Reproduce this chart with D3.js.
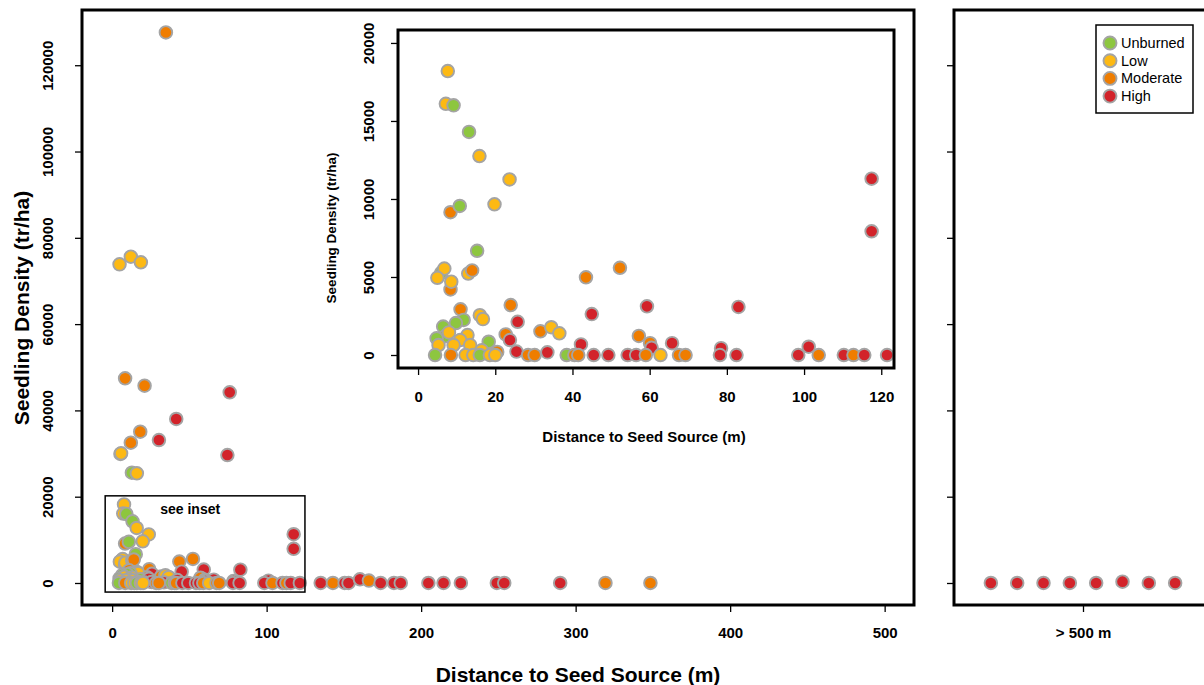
<!DOCTYPE html>
<html>
<head>
<meta charset="utf-8">
<script src="https://cdn.jsdelivr.net/npm/d3@7"></script>
<style>
  body { margin: 0; background: #fff; }
  svg { font-family: "Liberation Sans", Arial, Helvetica, sans-serif; }
  .tick text { font-weight: bold; font-size: 15px; fill: #000; }
  .tick line { stroke: #000; stroke-width: 1.3; }
</style>
</head>
<body>
<div id="chart"></div>
<script>
// burn severity classes and colours
const severities = ["Unburned", "Low", "Moderate", "High"];
const severityColors = ["#8dc63f", "#fdb913", "#ef7d00", "#d2232a"];

// plots within 500 m of a seed source
const distance = [
  34.8, 4.8, 12.1, 18.6, 8.4, 21.0, 76.1, 41.5, 18.2, 12.1, 30.3, 5.4, 5.8, 74.6, 12.8, 16.0,
  7.7, 7.2, 9.2, 13.2, 15.9, 23.7, 8.4, 10.8, 19.8, 15.3, 6.0, 6.8, 5.0, 8.4, 8.6, 13.0, 14.0,
  43.5, 52.3, 117.5, 117.5, 59.3, 83.0, 45.0, 24.0, 11.0, 16.0, 16.8, 11.8, 9.8, 6.5, 25.8,
  22.7, 31.7, 34.5, 36.6, 57.2, 7.0, 4.8, 8.0, 12.8, 10.9, 5.3, 9.2, 13.5, 18.3, 23.8, 42.2,
  60.1, 60.5, 65.8, 78.5, 101.2, 20.5, 25.5, 33.5, 16.5,
  4.4, 8.5, 12.3, 14.3, 16.0, 18.6, 20.0, 28.5, 30.2, 38.5, 40.5, 41.5, 45.5, 49.3, 54.3, 56.5,
  59.0, 62.8, 67.6, 69.3, 78.2, 82.5, 98.5, 103.8, 110.3, 112.8, 115.6, 121.5,
  135, 142.9, 150.5, 153, 160.4, 166.2, 173.8, 182.4, 186.8, 204.7, 214.5, 225.7, 249, 253.8,
  290, 319.3, 348.4
];
const density = [
  127600, 73850, 75630, 74320, 47440, 45730, 44190, 38010, 35070, 32520, 33140, 29900, 30060, 29660, 25570, 25420,
  18200, 16100, 16000, 14300, 12750, 11250, 9150, 9550, 9660, 6680, 5270, 5540, 4950, 4200, 4700, 5220, 5420,
  4980, 5590, 11300, 7930, 3120, 3080, 2620, 3200, 2930, 2550, 2300, 2250, 2050, 1820, 2130,
  1320, 1520, 1780, 1390, 1220, 1200, 1070, 1450, 1280, 960, 640, 640, 640, 850, 960, 680,
  760, 460, 760, 440, 530, 200, 220, 170, 300,
  0, 0, 0, 0, 0, 0, 0, 0, 0, 0, 0, 0, 0, 0, 0, 0,
  0, 0, 0, 0, 0, 0, 0, 0, 0, 0, 0, 0,
  0, 0, 0, 0, 850, 550, 0, 0, 0, 0, 0, 0, 0, 0,
  0, 0, 0
];
const severity = [
  "Moderate", "Low", "Low", "Low", "Moderate", "Moderate", "High", "High", "Moderate", "Moderate", "High", "Unburned", "Low", "High", "Unburned", "Low",
  "Low", "Low", "Unburned", "Unburned", "Low", "Low", "Moderate", "Unburned", "Low", "Unburned", "Unburned", "Low", "Low", "Moderate", "Low", "Low", "Moderate",
  "Moderate", "Moderate", "High", "High", "High", "High", "High", "Moderate", "Moderate", "Low", "Low", "Unburned", "Unburned", "Unburned", "High",
  "Moderate", "Moderate", "Low", "Low", "Moderate", "Unburned", "Unburned", "Low", "Low", "Low", "Low", "Low", "Low", "Unburned", "High", "High",
  "Moderate", "High", "High", "High", "High", "Moderate", "High", "High", "Low",
  "Unburned", "Moderate", "Low", "Low", "Unburned", "Low", "Low", "Moderate", "Moderate", "Unburned", "Moderate", "Moderate", "High", "High", "High", "High",
  "Moderate", "Low", "Moderate", "Moderate", "High", "High", "High", "Moderate", "High", "Moderate", "High", "High",
  "High", "Moderate", "High", "High", "High", "Moderate", "High", "High", "High", "High", "High", "High", "High", "High",
  "High", "Moderate", "Moderate"
];

// plots farther than 500 m (spread out in their own panel)
const farIndex = [1, 2, 3, 4, 5, 6, 7, 8];
const farDensity = [0, 0, 0, 0, 0, 300, 0, 0];
const farSeverity = ["High", "High", "High", "High", "High", "High", "High", "High"];

// tick values
const mainXTicks = [0, 100, 200, 300, 400, 500];
const mainYTicks = [0, 20000, 40000, 60000, 80000, 100000, 120000];
const insetXTicks = [0, 20, 40, 60, 80, 100, 120];
const insetYTicks = [0, 5000, 10000, 15000, 20000];

// area of the main panel that the inset enlarges
const insetRegion = { x0: -4.5, x1: 124.8, y0: -2100, y1: 20200 };

const width = 1204, height = 685;
const svg = d3.select("#chart").append("svg")
    .attr("width", width)
    .attr("height", height);

const color = d3.scaleOrdinal().domain(severities).range(severityColors);

const mainX = d3.scaleLinear().domain([-19.5, 519]).range([82, 914]);
const mainY = d3.scaleLinear().domain([-5100, 132800]).range([605, 10]);
const insetX = d3.scaleLinear().domain([-5.2, 123.3]).range([398, 894]);
const insetY = d3.scaleLinear().domain([-833, 20830]).range([368, 30]);
const farX = d3.scaleLinear().domain([-0.4, 9.4]).range([954, 1212]);

const points = distance.map((d, i) => ({ x: d, y: density[i], s: severity[i] }));
const farPoints = farIndex.map((d, i) => ({ x: d, y: farDensity[i], s: farSeverity[i] }));

const defs = svg.append("defs");
function addClip(id, xs, ys) {
    defs.append("clipPath").attr("id", id).append("rect")
        .attr("x", xs.range()[0]).attr("y", ys.range()[1])
        .attr("width", xs.range()[1] - xs.range()[0])
        .attr("height", ys.range()[0] - ys.range()[1]);
}
addClip("clip-main", mainX, mainY);
addClip("clip-inset", insetX, insetY);
addClip("clip-far", farX, mainY);

function drawPoints(data, xs, ys, clipId) {
    svg.append("g")
        .attr("clip-path", `url(#${clipId})`)
        .selectAll("circle")
        .data(data)
        .enter()
        .append("circle")
        .attr("cx", d => xs(d.x))
        .attr("cy", d => ys(d.y))
        .attr("r", 6.3)
        .style("fill", d => color(d.s))
        .style("stroke", "#a4a4a4")
        .style("stroke-width", 1.9);
}

function drawBox(xs, ys, lw) {
    svg.append("rect")
        .attr("x", xs.range()[0]).attr("y", ys.range()[1])
        .attr("width", xs.range()[1] - xs.range()[0])
        .attr("height", ys.range()[0] - ys.range()[1])
        .style("fill", "none")
        .style("stroke", "#000")
        .style("stroke-width", lw);
}

function bottomAxis(xs, ys, ticks, labelY, fmt) {
    const g = svg.append("g")
        .attr("transform", `translate(0,${ys.range()[0]})`)
        .call(d3.axisBottom(xs).tickValues(ticks).tickSize(7).tickSizeOuter(0).tickFormat(fmt || d3.format("d")));
    g.select(".domain").remove();
    g.selectAll("text").attr("y", labelY).attr("dy", "0.35em");
    return g;
}

function leftAxis(ys, xs, ticks, offset, showLabels) {
    const g = svg.append("g")
        .attr("transform", `translate(${xs.range()[0]},0)`)
        .call(d3.axisLeft(ys).tickValues(ticks).tickSize(7).tickSizeOuter(0).tickFormat(d3.format("d")));
    g.select(".domain").remove();
    if (showLabels) {
        g.selectAll("text")
            .attr("transform", "rotate(-90)")
            .attr("x", 0)
            .attr("y", -offset)
            .attr("dy", null)
            .attr("text-anchor", "middle");
    } else {
        g.selectAll("text").remove();
    }
    return g;
}

// ---- main panel ----
drawPoints(points, mainX, mainY, "clip-main");

svg.append("rect")
    .attr("x", mainX(insetRegion.x0))
    .attr("y", mainY(insetRegion.y1))
    .attr("width", mainX(insetRegion.x1) - mainX(insetRegion.x0))
    .attr("height", mainY(insetRegion.y0) - mainY(insetRegion.y1))
    .style("fill", "none")
    .style("stroke", "#000")
    .style("stroke-width", 1.5);

svg.append("text")
    .attr("x", mainX(insetRegion.x0) + 85)
    .attr("y", mainY(insetRegion.y1) + 18)
    .attr("text-anchor", "middle")
    .style("font-weight", "bold")
    .style("font-size", "14px")
    .text("see inset");

bottomAxis(mainX, mainY, mainXTicks, 28);
leftAxis(mainY, mainX, mainYTicks, 29.5, true);

// ---- inset ----
svg.append("rect")
    .attr("x", insetX.range()[0]).attr("y", insetY.range()[1])
    .attr("width", insetX.range()[1] - insetX.range()[0])
    .attr("height", insetY.range()[0] - insetY.range()[1])
    .style("fill", "#fff");

drawPoints(points, insetX, insetY, "clip-inset");
drawBox(insetX, insetY, 3);
bottomAxis(insetX, insetY, insetXTicks, 29);
leftAxis(insetY, insetX, insetYTicks, 24.5, true);

svg.append("text")
    .attr("x", 644)
    .attr("y", 442)
    .attr("text-anchor", "middle")
    .style("font-weight", "bold")
    .style("font-size", "15px")
    .text("Distance to Seed Source (m)");

svg.append("text")
    .attr("transform", "translate(336,228) rotate(-90)")
    .attr("text-anchor", "middle")
    .style("font-weight", "bold")
    .style("font-size", "13.5px")
    .text("Seedling Density (tr/ha)");

drawBox(mainX, mainY, 3);

// ---- far panel ----
drawPoints(farPoints, farX, mainY, "clip-far");
drawBox(farX, mainY, 3);
bottomAxis(farX, mainY, [4.5], 28, () => "> 500 m");
leftAxis(mainY, farX, mainYTicks, 0, false);

// ---- legend ----
const legend = svg.append("g").attr("transform", "translate(1096,25)");
legend.append("rect")
    .attr("width", 97).attr("height", 88)
    .style("fill", "#fff")
    .style("stroke", "#000")
    .style("stroke-width", 1.5);
severities.forEach((s, i) => {
    legend.append("circle")
        .attr("cx", 14).attr("cy", 18 + i * 17.7)
        .attr("r", 6.5)
        .style("fill", severityColors[i])
        .style("stroke", "#a4a4a4")
        .style("stroke-width", 1.9);
    legend.append("text")
        .attr("x", 25).attr("y", 18 + i * 17.7 + 5)
        .style("font-size", "14.5px")
        .text(s);
});

// ---- axis titles ----
svg.append("text")
    .attr("x", 578)
    .attr("y", 682)
    .attr("text-anchor", "middle")
    .style("font-weight", "bold")
    .style("font-size", "21px")
    .text("Distance to Seed Source (m)");

svg.append("text")
    .attr("transform", "translate(29,308) rotate(-90)")
    .attr("text-anchor", "middle")
    .style("font-weight", "bold")
    .style("font-size", "21px")
    .text("Seedling Density (tr/ha)");
</script>
</body>
</html>
